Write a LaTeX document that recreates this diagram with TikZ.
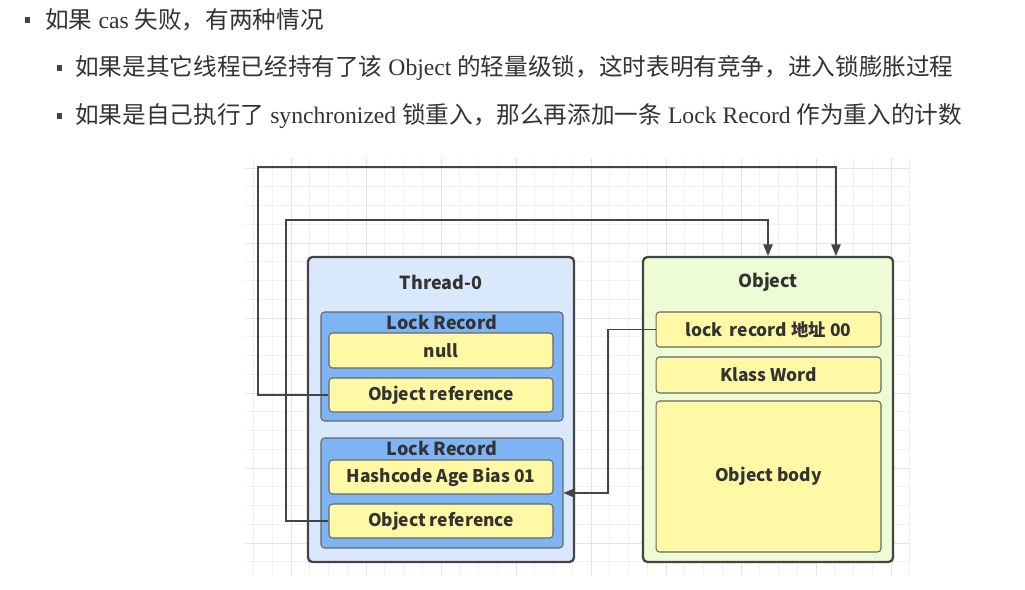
\documentclass[tikz,border=0pt]{standalone}
\usepackage{fontspec}
\setmainfont{Liberation Serif}
\newfontfamily\cjk{Noto Sans CJK SC}
\usepackage{tikz}
\usetikzlibrary{arrows.meta,positioning,calc}
\definecolor{textgray}{RGB}{51,51,51}
\definecolor{linegray}{RGB}{68,68,68}
\definecolor{threadblue}{RGB}{218,232,252}
\definecolor{recordblue}{RGB}{126,180,244}
\definecolor{slotyellow}{RGB}{255,249,166}
\definecolor{objgreen}{RGB}{238,252,214}
\definecolor{gridminor}{RGB}{240,240,240}
\definecolor{gridmajor}{RGB}{228,228,228}
\tikzset{
  bullet/.style={rectangle,fill=linegray,inner sep=0pt,minimum size=0.11cm},
  lineitem/.style={anchor=west,inner sep=0pt,text=textgray,font=\fontsize{13.45}{15}\selectfont},
  outerbox/.style={rectangle,rounded corners=2.5pt,draw=linegray,line width=1.3pt,inner sep=0pt},
  recordbox/.style={rectangle,rounded corners=2pt,draw=black!60,fill=recordblue,line width=0.6pt,inner sep=0pt,minimum width=4.84cm},
  slot/.style={rectangle,rounded corners=2pt,draw=black!60,fill=slotyellow,line width=0.6pt,inner sep=0pt,
    text=textgray,font=\cjk\bfseries\fontsize{9.9}{11}\selectfont},
  boxtitle/.style={inner sep=0pt,text=textgray,font=\cjk\bfseries\fontsize{10.2}{12}\selectfont},
  link/.style={-{Triangle[length=2.3mm,width=1.9mm]},line width=0.6pt,draw=linegray},
  gridline/.style={line width=0.4pt,draw=gridminor}
}

\begin{document}
\begin{tikzpicture}[x=0.02cm,y=-0.02cm]
  \useasboundingbox[fill=white] (0,0) rectangle (1025,589);

  % bullet list
  \node[bullet] (b1) at (27.5,20) {};
  \node[bullet] (b2) at (59.5,68) {};
  \node[bullet] (b3) at (59.5,116) {};
  \node[lineitem] (t1) at (45,20) {{\cjk 如果} cas {\cjk 失败，有两种情况}};
  \node[lineitem] (t2) at (75,68)
    {{\cjk 如果是其它线程已经持有了该} Object {\cjk 的轻量级锁，这时表明有竞争，进入锁膨胀过程}};
  \node[lineitem] (t3) at (75,116)
    {{\cjk 如果是自己执行了} synchronized {\cjk 锁重入，那么再添加一条} Lock Record {\cjk 作为重入的计数}};

  % canvas grid
  \foreach \gx in {253.5,272.25,...,910}{
    \draw[gridline] (\gx,158) -- (\gx,575);
  }
  \foreach \gy in {561.75,543,...,158}{
    \draw[gridline] (245,\gy) -- (910,\gy);
  }
  \foreach \gx in {291,366,...,910}{
    \draw[gridline,draw=gridmajor] (\gx,158) -- (\gx,575);
  }
  \foreach \gy in {543,468,...,158}{
    \draw[gridline,draw=gridmajor] (245,\gy) -- (910,\gy);
  }

  % thread stack
  \node[outerbox,fill=threadblue,minimum width=5.32cm,minimum height=6.1cm] (thread) at (441,409.5) {};
  \node[boxtitle] (threadtitle) at (441,282) {Thread-0};

  \node[recordbox,minimum height=2.18cm] (lrA) at (442,366.5) {};
  \node[boxtitle] at (442,322) {Lock Record};
  \node[slot,minimum width=4.48cm,minimum height=0.7cm] (nullA) at (441,350.5) {null};
  \node[slot,minimum width=4.48cm,minimum height=0.68cm] (refA) at (441,395) {Object reference};

  \node[recordbox,minimum height=2.2cm] (lrB) at (442,493) {};
  \node[boxtitle] at (442,448) {Lock Record};
  \node[slot,minimum width=4.48cm,minimum height=0.68cm] (hashB) at (441,477) {Hashcode Age Bias 01};
  \node[slot,minimum width=4.48cm,minimum height=0.68cm] (refB) at (441,521) {Object reference};

  % object
  \node[outerbox,fill=objgreen,minimum width=5.0cm,minimum height=6.1cm] (object) at (768,409.5) {};
  \node[boxtitle] (objtitle) at (768,282) {Object};
  \node[slot,minimum width=4.5cm,minimum height=0.7cm] (markword) at (768.5,329.5) {lock\, record 地址 00};
  \node[slot,minimum width=4.5cm,minimum height=0.72cm] (klass) at (768.5,375) {Klass Word};
  \node[slot,minimum width=4.5cm,minimum height=3.02cm] (body) at (768.5,476.5) {Object body};

  % connectors
  \coordinate (upA) at (258,167);
  \coordinate (upB) at (286,220);
  \coordinate (turnC) at (608,493);

  \draw[link] (refA.west) -| (upA) -| ([xshift=1.36cm]object.north);
  \draw[link] (refB.west) -| (upB) -| (object.north);
  \draw[link] (markword.west) -| (turnC) -- (lrB.east);
\end{tikzpicture}
\end{document}
